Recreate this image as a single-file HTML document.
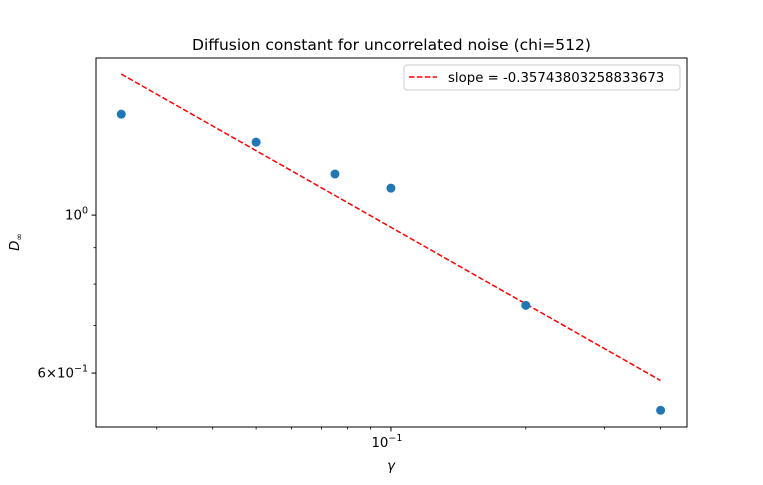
<!DOCTYPE html>
<html><head><meta charset="utf-8">
<style>
html,body{margin:0;padding:0;background:#fff;}
svg text{font-family:"DejaVu Sans","Liberation Sans",sans-serif;fill:#000;}
</style></head>
<body>
<svg id="chart" width="763" height="480" xmlns="http://www.w3.org/2000/svg">
<text x="391.5" y="50" font-size="15.5" text-anchor="middle">Diffusion constant for uncorrelated noise (chi=512)</text>
<g id="plot"></g>
</svg>
<script>
const gammaValues = [0.025, 0.05, 0.075, 0.1, 0.2, 0.4];
const diffusionValues = [1.386, 1.266, 1.142, 1.091, 0.747, 0.532];
const fitSlope = -0.35743803258833673;
const fitAnchorGamma = 0.025;
const fitAnchorD = 1.578;
const yMajorTicks = [1.0, 0.6];
const yMajorLabels = ["10", "6\u00d710"];
const yMajorExps = ["0", "\u22121"];
const yMinorTicks = [0.7, 0.8, 0.9];
const xMajorTicks = [0.1];
const xMinorTicks = [0.03, 0.04, 0.05, 0.06, 0.07, 0.08, 0.09, 0.2, 0.3, 0.4];

const L=96,R=687,T=58,B=427;
const xmin=-1.6585,xmax=-0.339,ymin=Math.log10(0.504),ymax=Math.log10(1.662);
const sx=v=>L+(Math.log10(v)-xmin)/(xmax-xmin)*(R-L);
const sy=v=>B-(Math.log10(v)-ymin)/(ymax-ymin)*(B-T);
const NS="http://www.w3.org/2000/svg";
const g=document.getElementById('plot');
function mk(tag,attrs,parent){const e=document.createElementNS(NS,tag);for(const k in attrs)e.setAttribute(k,attrs[k]);(parent||g).appendChild(e);return e;}

// fit line
const fx=[gammaValues[0],gammaValues[gammaValues.length-1]];
const fy=fx.map(x=>fitAnchorD*Math.pow(x/fitAnchorGamma,fitSlope));
const fl=mk('line',{x1:sx(fx[0]),y1:sy(fy[0]),x2:sx(fx[1]),y2:sy(fy[1]),stroke:'#ff0000','stroke-width':1.5,'stroke-dasharray':'5.5,2.4'});



// points
gammaValues.forEach((x,i)=>{
  const c=mk('circle',{cx:sx(x),cy:sy(diffusionValues[i]),r:4.5,fill:'#1f77b4'});
  
  
});

// frame
const fr=mk('rect',{x:L,y:T,width:R-L,height:B-T,fill:'none',stroke:'#000','stroke-width':1});



// y ticks
yMajorTicks.forEach((v,i)=>{
  const y=sy(v);
  mk('line',{x1:L-4.5,x2:L,y1:y,y2:y,stroke:'#000','stroke-width':1});
  const t=mk('text',{x:L-8,y:y+4.5,'font-size':13.3,'text-anchor':'end'});
  
  
  t.textContent=yMajorLabels[i];
  const s=mk('tspan',{dy:-6,'font-size':9.5},t);s.textContent=yMajorExps[i];
});
yMinorTicks.forEach(v=>{const y=sy(v);mk('line',{x1:L-2.5,x2:L,y1:y,y2:y,stroke:'#000','stroke-width':0.8});});
// x ticks
xMajorTicks.forEach(v=>{
  const x=sx(v);
  mk('line',{x1:x,x2:x,y1:B,y2:B+4.5,stroke:'#000','stroke-width':1});
  const t=mk('text',{x:x-4,y:B+20,'font-size':13.3,'text-anchor':'middle'});
  
  
  t.textContent='10';
  const s=mk('tspan',{dy:-6,'font-size':9.5},t);s.textContent='\u22121';
});
xMinorTicks.forEach(v=>{const x=sx(v);if(x>L&&x<R)mk('line',{x1:x,x2:x,y1:B,y2:B+2.5,stroke:'#000','stroke-width':0.8});});

// axis labels
const xl=mk('text',{x:391,y:470,'font-size':13.3,'text-anchor':'middle','font-style':'italic'});


xl.textContent='\u03b3';
const yl=mk('text',{x:0,y:0,'font-size':13.3,'text-anchor':'middle','font-style':'italic',transform:'translate(19,242) rotate(-90)'});


yl.textContent='D';
const ys=mk('tspan',{dy:3,'font-size':9,'font-style':'normal'},yl);ys.textContent='\u221e';

// legend
const lg=mk('g',{});


mk('rect',{x:404,y:65,width:276,height:25,rx:3,fill:'#fff',stroke:'#ccc','stroke-width':1},lg);
mk('line',{x1:409,x2:437,y1:77,y2:77,stroke:'#ff0000','stroke-width':1.5,'stroke-dasharray':'5.5,2.4'},lg);
const lt=mk('text',{x:448,y:82,'font-size':13.3},lg);


lt.textContent='slope = '+fitSlope;
</script>
</body></html>
